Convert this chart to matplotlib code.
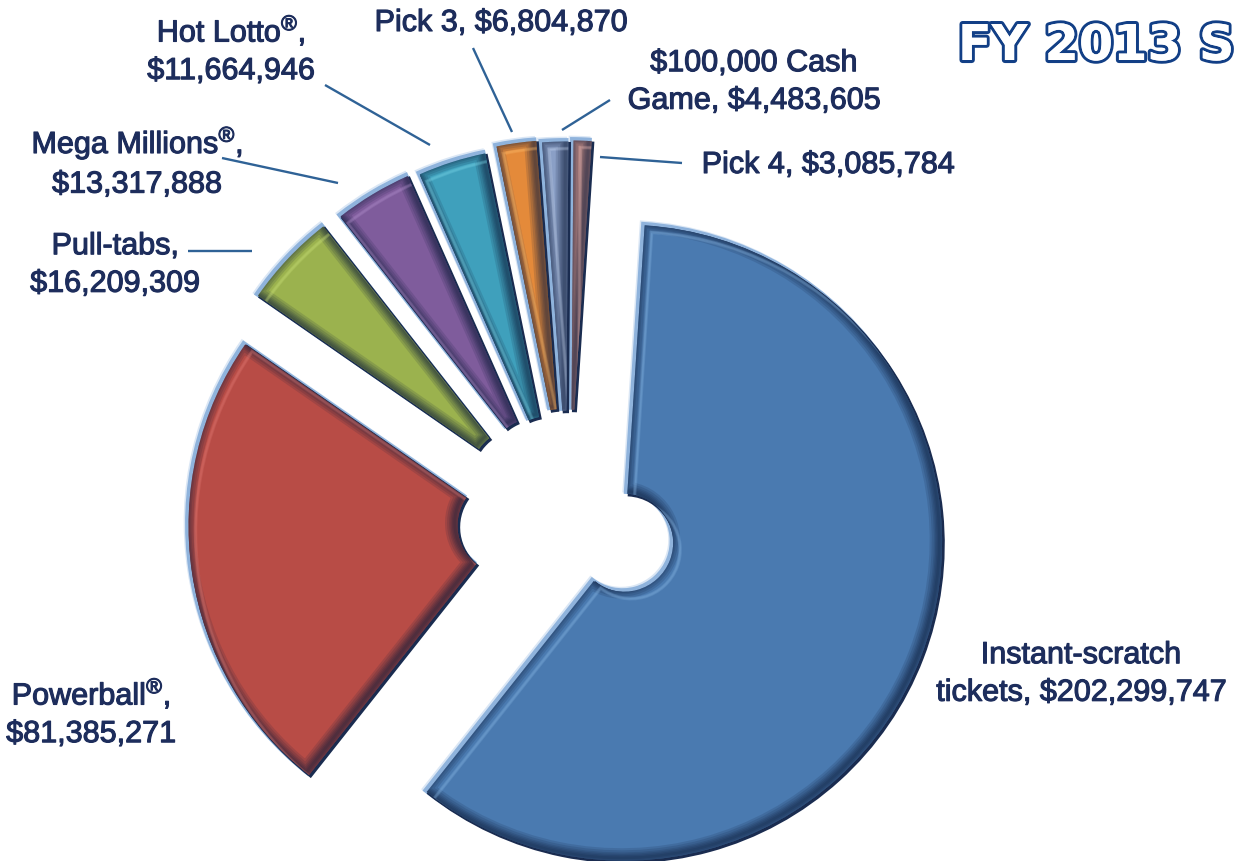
import copy

import matplotlib
matplotlib.use("Agg")
import matplotlib.pyplot as plt
import matplotlib.patheffects as pe
from matplotlib.transforms import ScaledTranslation

plt.rcParams["mathtext.fontset"] = "custom"
plt.rcParams["mathtext.rm"] = "Liberation Sans"
plt.rcParams["mathtext.default"] = "regular"

# Chart data
games = ["Instant-scratch tickets", "Powerball", "Pull-tabs", "Mega Millions",
         "Hot Lotto", "Pick 3", "$100,000 Cash Game", "Pick 4"]
sales = [202299747, 81385271, 16209309, 13317888,
         11664946, 6804870, 4483605, 3085784]
colors = ["#4a7ab0", "#b84c46", "#9bb24e", "#7f5c9c",
          "#3fa0bc", "#e48a3a", "#8a9fc6", "#c08a84"]
highlights = ["#8cbbe8", "#e8807a", "#cfe67c", "#b795d2",
              "#7fdcee", "#ffc070", "#c4d4ee", "#eebcb6"]
# slice offsets in pixels, matplotlib adds these straight to the centre
explode = [73, 49, 49, 51, 53, 56, 58, 60]
# small extra shift (px right, px up), the original slices are not purely radial
nudge = [(-1, 2), (-2, 0), (-2, 8), (6, 8), (8, 3), (11, 5), (11, 1), (12, 0)]

labels = ["Instant-scratch\ntickets, $202,299,747", "Powerball$^{®}$,\n$81,385,271",
          "Pull-tabs,\n$16,209,309", "Mega Millions$^{®}$,\n$13,317,888",
          "Hot Lotto$^{®}$,\n$11,664,946", "Pick 3, $6,804,870",
          "$100,000 Cash\nGame, $4,483,605", "Pick 4, $3,085,784"]
label_pos = [(1081, 674), (91, 712), (115, 265), (137, 161),
             (231, 49), (501, 23), (754, 82), (828, 165)]
leaders = [None, None, ((188, 251), (252, 251)), ((222, 158), (338, 183)),
           ((325, 85), (430, 145)), ((473, 48), (512, 132)),
           ((610, 100), (562, 130)), ((682, 163), (600, 157))]

W, H = 1235, 861
NAVY = "#1d2d5c"
LEAD = "#2f6296"
RADIUS = 318
HOLE = 49


def shifted(wedge, shift):
    off = ScaledTranslation(shift[0] / 72, shift[1] / 72, fig.dpi_scale_trans)
    return wedge.get_transform() + off


def bevel(wedge, color, shift, widths, alpha):
    # soft stroke offset from the wedge edge and clipped inside it
    for lw in widths:
        stroke = copy.copy(wedge)
        stroke.set_facecolor("none")
        stroke.set_edgecolor(color)
        stroke.set_linewidth(lw)
        stroke.set_alpha(alpha)
        stroke.set_transform(shifted(wedge, shift))
        stroke.set_zorder(3)
        ax.add_patch(stroke)
        stroke.set_clip_on(True)
        stroke.set_clip_path(wedge.get_path(), wedge.get_transform())


def outline(wedge, color, shift, lw, z):
    # rim behind the slice, light on the upper left and dark on the lower right
    rim = copy.copy(wedge)
    rim.set_facecolor(color)
    rim.set_edgecolor(color)
    rim.set_linewidth(lw)
    rim.set_transform(shifted(wedge, shift))
    rim.set_zorder(z)
    ax.add_patch(rim)


fig = plt.figure(figsize=(W / 100, H / 100), dpi=100, facecolor="white")
ax = fig.add_axes([0, 0, 1, 1])

wedges, _ = ax.pie(sales, colors=colors, explode=explode, startangle=86.3,
                   counterclock=False, radius=RADIUS, center=(557, H - 518.5),
                   frame=True,
                   wedgeprops=dict(width=RADIUS - HOLE, edgecolor="none",
                                   linewidth=0, zorder=2))
ax.set_xlim(0, W)
ax.set_ylim(0, H)
ax.set_aspect("equal")
ax.axis("off")

for w, (dx, dy) in zip(wedges, nudge):
    cx, cy = w.center
    w.set_center((cx + dx, cy + dy))

for w, light in zip(wedges, highlights):
    outline(w, "#dbe7f5", (-2.2, 2.2), 2.6, 0.8)
    outline(w, "#8fb3dc", (-1.2, 1.2), 2.6, 1)
    outline(w, "#1a2c50", (1.1, -1.1), 1.6, 1.5)
    bevel(w, "#0e1c3a", (-2.0, 2.0), [2, 4, 6, 8, 11, 14], 0.14)
    bevel(w, light, (5.0, -5.0), [1.4, 2.6], 0.22)

for seg in leaders:
    if seg is None:
        continue
    ax.plot([seg[0][0], seg[1][0]], [H - seg[0][1], H - seg[1][1]],
            color=LEAD, lw=1.7, zorder=5, solid_capstyle="butt")

for text, (x, y) in zip(labels, label_pos):
    ax.text(x, H - y, text, ha="center", va="center", color=NAVY, fontsize=22,
            family="Liberation Sans", linespacing=1.33, zorder=6,
            path_effects=[pe.withStroke(linewidth=0.8, foreground=NAVY)])

ax.text(958, H - 60, "FY 2013 S", ha="left", va="baseline", fontsize=35.5,
        family="DejaVu Sans", fontweight="bold", color="white", zorder=6,
        path_effects=[pe.withStroke(linewidth=4.4, foreground="#123f86"),
                      pe.Normal()])

fig.savefig("out.png", dpi=100, facecolor="white")
